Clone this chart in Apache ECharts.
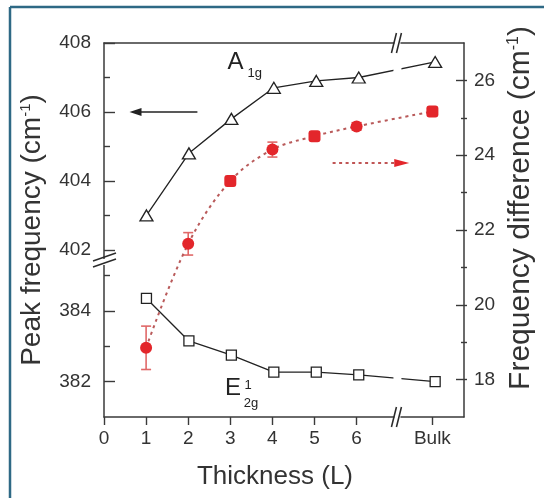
<!DOCTYPE html>
<html><head><meta charset="utf-8">
<script src="https://cdn.jsdelivr.net/npm/echarts@6/dist/echarts.min.js"></script>
<style>html,body{margin:0;padding:0;background:#fff}#c{width:544px;height:498px}</style>
</head><body><div id="c"></div>
<script>
// ---- data ----
const layerPos = [1, 2, 3, 4, 5, 6, 7.8];          // x position of each sample (Bulk drawn after the axis break)
const xTickValues = [0, 1, 2, 3, 4, 5, 6, 7.8];
const xTickLabels = ['0', '1', '2', '3', '4', '5', '6', 'Bulk'];
const a1g = [403.0, 404.8, 405.8, 406.7, 406.9, 407.0, 407.45];
const e2g = [384.35, 383.15, 382.75, 382.27, 382.27, 382.19, 382.0];
const diff = [18.85, 21.63, 23.31, 24.15, 24.51, 24.77, 25.17];
const diffErr = [0.58, 0.3, 0.12, 0.2, 0.1, 0.1, 0.1];
const diffShapes = ['circle', 'circle', 'roundRect', 'circle', 'roundRect', 'circle', 'roundRect'];
const upperTicks = [402, 404, 406, 408], upperMinor = [403, 405, 407];
const lowerTicks = [382, 384], lowerMinor = [383, 385];
const rightTicks = [18, 20, 22, 24, 26], rightMinor = [19, 21, 23, 25];

const FONT = 'Liberation Sans, Arial, Helvetica, sans-serif';
const AX = '#3a3a3a', TXT = '#333';
const X0 = 0, X1 = 8.55;
const PLOT_W = 544 - 104 - 77;

const noLine = {show:false, onZero:false};
const axLine = {show:true, onZero:false, lineStyle:{color:AX, width:1.5}};
const hiddenX = (g) => ({type:'value', gridIndex:g, min:X0, max:X1, show:false, axisLine:{onZero:false}});
const lbl = (vals, margin) => ({show:true, customValues: vals, margin: margin, fontSize:19, color:TXT, fontFamily:FONT});
// tick-only axis placed on the opposite side and shifted onto the frame edge so its ticks point into the plot
const tickAxis = (g, min, max, side, vals, len) => ({
  type:'value', gridIndex:g, min:min, max:max, position:side, offset:-PLOT_W,
  axisLine:noLine, axisLabel:{show:false}, splitLine:{show:false},
  axisTick:{show:true, inside:false, length:len, customValues:vals, lineStyle:{color:AX, width:1.4}}
});
const supRich = (fs) => ({s:{fontSize:fs, color:TXT, fontFamily:FONT},
                 u:{fontSize:Math.round(fs*0.53), color:TXT, fontFamily:FONT, verticalAlign:'top', padding:[0,0,Math.round(fs*0.46),0]}});

const option = {
  animation:false,
  backgroundColor:'#fff',
  grid:[
    {left:104, right:77, top:43, bottom:81},
    {left:104, right:77, top:43, height:219},
    {left:104, right:77, top:262, bottom:81}
  ],
  xAxis:[
    {type:'value', gridIndex:0, min:X0, max:X1, position:'bottom',
     axisLine:axLine,
     axisTick:{show:true, inside:false, length:8, customValues:xTickValues, lineStyle:{color:AX, width:1.4}},
     axisLabel:{show:true, customValues:xTickValues, margin:12, fontSize:19, color:TXT, fontFamily:FONT,
       formatter:(v)=>{const i = xTickValues.findIndex(t=>Math.abs(t-v)<1e-6); return i>=0 ? xTickLabels[i] : '';}},
     splitLine:{show:false},
     name:'Thickness (L)', nameLocation:'middle', nameGap:47,
     nameTextStyle:{fontSize:26, color:TXT, fontFamily:FONT, padding:[0,18,0,0]}},
    {type:'value', gridIndex:0, min:X0, max:X1, position:'top',
     axisLine:axLine, axisTick:{show:false}, axisLabel:{show:false}, splitLine:{show:false}},
    hiddenX(1), hiddenX(2)
  ],
  yAxis:[
    // grid 0: right axis (frequency difference)
    {type:'value', gridIndex:0, min:17, max:27, position:'right',
     axisLine:axLine, axisTick:{show:false}, axisLabel:lbl(rightTicks, 10), splitLine:{show:false},
     name:'Frequency difference {s|(cm}{u|-1}{s|)}', nameLocation:'middle', nameRotate:90, nameGap:41,
     nameTextStyle:{fontSize:30, color:TXT, fontFamily:FONT, padding:[0,0,0,44], rich:supRich(30)}},
    tickAxis(0, 17, 27, 'left', rightTicks, 11),
    tickAxis(0, 17, 27, 'left', rightMinor, 6),
    // grid 0: left title only
    {type:'value', gridIndex:0, min:17, max:27, position:'left',
     axisLine:noLine, axisTick:{show:false}, axisLabel:{show:false}, splitLine:{show:false},
     name:'Peak frequency {s|(cm}{u|-1}{s|)}', nameLocation:'middle', nameRotate:90, nameGap:58,
     nameTextStyle:{fontSize:28, color:TXT, fontFamily:FONT, rich:supRich(28)}},
    // grid 1: upper part of the broken left axis
    {type:'value', gridIndex:1, min:401.65, max:408, position:'left',
     axisLine:axLine, axisTick:{show:false}, axisLabel:lbl(upperTicks, 13), splitLine:{show:false}},
    tickAxis(1, 401.65, 408, 'right', upperTicks, 11),
    tickAxis(1, 401.65, 408, 'right', upperMinor, 6),
    // grid 2: lower part of the broken left axis
    {type:'value', gridIndex:2, min:381, max:385.38, position:'left',
     axisLine:axLine, axisTick:{show:false}, axisLabel:lbl(lowerTicks, 13), splitLine:{show:false}},
    tickAxis(2, 381, 385.38, 'right', lowerTicks, 11),
    tickAxis(2, 381, 385.38, 'right', lowerMinor, 6)
  ],
  series:[
    {name:'A1g', type:'line', xAxisIndex:2, yAxisIndex:4,
     data: layerPos.map((x,i)=>[x, a1g[i]]),
     symbol:'triangle', symbolSize:[13,11], showSymbol:true,
     itemStyle:{color:'#fff', borderColor:'#222', borderWidth:1.3},
     lineStyle:{color:'#222', width:1.3}, z:3},
    {name:'E2g', type:'line', xAxisIndex:3, yAxisIndex:7,
     data: layerPos.map((x,i)=>[x, e2g[i]]),
     symbol:'rect', symbolSize:10, showSymbol:true,
     itemStyle:{color:'#fff', borderColor:'#222', borderWidth:1.3},
     lineStyle:{color:'#222', width:1.3}, z:3},
    {name:'diff', type:'line', xAxisIndex:0, yAxisIndex:0,
     data: layerPos.map((x,i)=>({value:[x, diff[i]], symbol:diffShapes[i]})),
     smooth:0.35, symbolSize:12, showSymbol:true,
     itemStyle:{color:'#e3262b'},
     lineStyle:{color:'#b95a5a', width:2, type:[3,4]}, z:4},
    {name:'err', type:'custom', xAxisIndex:0, yAxisIndex:0,
     data: layerPos.map((x,i)=>[x, diff[i], diffErr[i]]),
     renderItem:(params, api)=>{
       const x = api.value(0), y = api.value(1), e = api.value(2);
       const t = api.coord([x, y+e]), b = api.coord([x, y-e]);
       const st = {stroke:'#e06868', lineWidth:1.6};
       return {type:'group', children:[
         {type:'line', shape:{x1:t[0], y1:t[1], x2:b[0], y2:b[1]}, style:st},
         {type:'line', shape:{x1:t[0]-5, y1:t[1], x2:t[0]+5, y2:t[1]}, style:st},
         {type:'line', shape:{x1:b[0]-5, y1:b[1], x2:b[0]+5, y2:b[1]}, style:st}
       ]};
     }, z:2}
  ]
};

const chart = echarts.init(document.getElementById('c'), null, {renderer:'canvas'});
chart.setOption(option);

// ---- annotations (positions from the chart's own scales) ----
const px = (si, x, y) => chart.convertToPixel({seriesIndex:si}, [x, y]);
const xBreak = chart.convertToPixel({xAxisIndex:0}, 6.97);
const yTop = chart.convertToPixel({yAxisIndex:0}, 27);
const yBot = chart.convertToPixel({yAxisIndex:0}, 17);
const xLeft = chart.convertToPixel({xAxisIndex:0}, 0);
const yBreak = chart.convertToPixel({yAxisIndex:4}, 401.65);
const blk = {stroke:'#2a2a2a', lineWidth:1.5};
const g = [];
// frame of the panel
g.push({type:'line', shape:{x1:10, y1:7, x2:10, y2:498}, style:{stroke:'#2e6985', lineWidth:2.5}, z:100});
g.push({type:'line', shape:{x1:10, y1:7, x2:544, y2:7}, style:{stroke:'#2e6985', lineWidth:2.5}, z:100});
// horizontal axis breaks
[yTop, yBot].forEach(y=>{
  g.push({type:'rect', shape:{x:xBreak-3, y:y-2, width:6, height:4}, style:{fill:'#fff'}, z:50});
  g.push({type:'line', shape:{x1:xBreak-6, y1:y+10, x2:xBreak-1, y2:y-10}, style:blk, z:51});
  g.push({type:'line', shape:{x1:xBreak-1, y1:y+10, x2:xBreak+4, y2:y-10}, style:blk, z:51});
});
// vertical axis break
g.push({type:'rect', shape:{x:xLeft-2, y:yBreak-3, width:4, height:6}, style:{fill:'#fff'}, z:50});
g.push({type:'line', shape:{x1:xLeft-11, y1:yBreak-1, x2:xLeft+12, y2:yBreak-9}, style:blk, z:51});
g.push({type:'line', shape:{x1:xLeft-11, y1:yBreak+5, x2:xLeft+12, y2:yBreak-3}, style:blk, z:51});
// gaps in the two peak lines at the x break
[[0, a1g], [1, e2g]].forEach(([si, arr])=>{
  const p6 = px(si, layerPos[5], arr[5]), pb = px(si, layerPos[6], arr[6]);
  const f = (xBreak - p6[0])/(pb[0]-p6[0]);
  const yy = p6[1] + f*(pb[1]-p6[1]);
  g.push({type:'rect', shape:{x:xBreak-4, y:yy-4, width:8, height:8}, style:{fill:'#fff'}, z:50});
});
// black arrow (left axis)
const a1 = px(0, 0.6, 406), a2 = px(0, 2.2, 406);
g.push({type:'line', shape:{x1:a1[0]+8, y1:a1[1], x2:a2[0], y2:a2[1]}, style:{stroke:'#222', lineWidth:1.6}, z:20});
g.push({type:'polygon', shape:{points:[[a1[0],a1[1]],[a1[0]+12,a1[1]-4],[a1[0]+12,a1[1]+4]]}, style:{fill:'#222'}, z:20});
// red dotted arrow (right axis)
const r1 = px(2, 5.43, 23.79), r2 = px(2, 7.25, 23.79);
g.push({type:'line', shape:{x1:r1[0], y1:r1[1], x2:r2[0]-14, y2:r2[1]}, style:{stroke:'#c05555', lineWidth:2, lineDash:[3,3.5]}, z:20});
g.push({type:'polygon', shape:{points:[[r2[0],r2[1]],[r2[0]-15,r2[1]-4],[r2[0]-15,r2[1]+4]]}, style:{fill:'#e3262b'}, z:20});
// peak labels
const aL = px(0, 3.1, 407.45);
g.push({type:'text', x:aL[0], y:aL[1], style:{text:'A', fontSize:24, fontFamily:FONT, fill:'#222', align:'center', verticalAlign:'middle'}, z:30});
g.push({type:'text', x:aL[0]+12, y:aL[1]+11, style:{text:'1g', fontSize:13, fontFamily:FONT, fill:'#222', align:'left', verticalAlign:'middle'}, z:30});
const eL = px(1, 3.04, 381.8);
g.push({type:'text', x:eL[0], y:eL[1], style:{text:'E', fontSize:24, fontFamily:FONT, fill:'#222', align:'center', verticalAlign:'middle'}, z:30});
g.push({type:'text', x:eL[0]+15, y:eL[1]-3, style:{text:'1', fontSize:13, fontFamily:FONT, fill:'#222', align:'center', verticalAlign:'middle'}, z:30});
g.push({type:'text', x:eL[0]+18, y:eL[1]+15, style:{text:'2g', fontSize:13, fontFamily:FONT, fill:'#222', align:'center', verticalAlign:'middle'}, z:30});
chart.setOption({graphic:{elements:g}});
</script></body></html>
